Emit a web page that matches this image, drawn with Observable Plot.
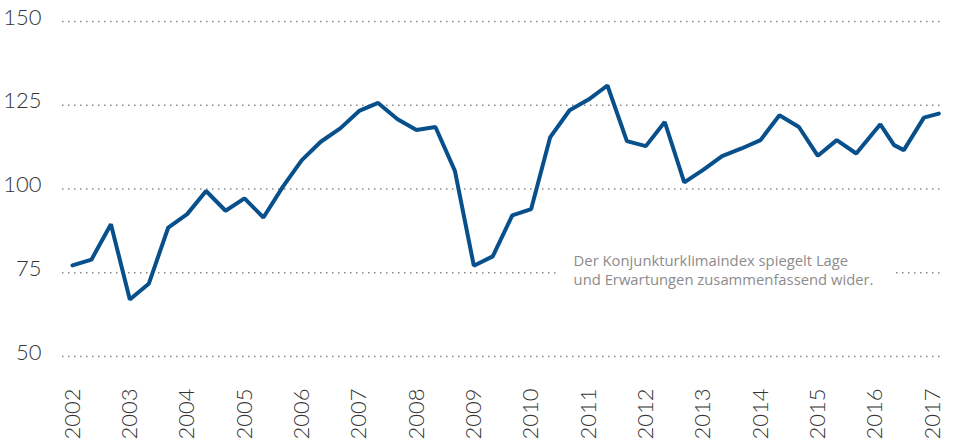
<!DOCTYPE html>
<html>
<head>
<meta charset="utf-8">
<script src="https://cdn.jsdelivr.net/npm/d3@7"></script>
<script src="https://cdn.jsdelivr.net/npm/@observablehq/plot@0.6"></script>
<style>
  html, body { margin: 0; padding: 0; background: #fff; }
  #chart { width: 954px; height: 443px; }
</style>
</head>
<body>
<div id="chart"></div>
<script>
// Time (fractional years) of each observation
const t = [2002.00, 2002.33, 2002.67, 2003.00, 2003.33, 2003.67, 2004.00, 2004.33, 2004.67,
           2005.00, 2005.33, 2005.67, 2006.00, 2006.33, 2006.67, 2007.00, 2007.33, 2007.67,
           2008.00, 2008.33, 2008.67, 2009.00, 2009.33, 2009.67, 2010.00, 2010.33, 2010.67,
           2011.00, 2011.33, 2011.67, 2012.00, 2012.33, 2012.67, 2013.00, 2013.33, 2013.67,
           2014.00, 2014.33, 2014.67, 2015.00, 2015.33, 2015.67, 2016.09, 2016.33, 2016.50,
           2016.85, 2017.11];
// Konjunkturklimaindex values
const v = [77.2, 78.9, 89.5, 67.0, 71.7, 88.5, 92.5, 99.4, 93.5,
           97.2, 91.5, 100.7, 108.6, 114.1, 118.1, 123.3, 125.7, 120.8,
           117.6, 118.5, 105.4, 77.1, 79.9, 92.1, 94.0, 115.4, 123.5,
           126.7, 130.9, 114.3, 112.8, 120.0, 102.0, 105.7, 109.8, 112.1,
           114.6, 122.0, 118.5, 109.9, 114.6, 110.6, 119.3, 113.1, 111.6,
           121.3, 122.5];
// Axis tick labels
const yearTicks = [2002, 2003, 2004, 2005, 2006, 2007, 2008, 2009, 2010, 2011, 2012, 2013, 2014, 2015, 2016, 2017];
const yTicks = [50, 75, 100, 125, 150];
const noteLines = ["Der Konjunkturklimaindex spiegelt Lage", "und Erwartungen zusammenfassend wider."];
const noteAt = {x: 2010.74, y: 75};

const data = t.map((d, i) => ({t: d, v: v[i]}));

const chart = Plot.plot({
  width: 954,
  height: 443,
  marginTop: 21,
  marginBottom: 87,
  marginLeft: 62,
  marginRight: 10,
  style: {fontFamily: "Lato, 'Open Sans', sans-serif", background: "#fff"},
  x: {domain: [2002, 2017], insetLeft: 10, insetRight: 12},
  y: {domain: [50, 150]},
  marks: [
    Plot.ruleY(yTicks, {stroke: "#8a8a8a", strokeWidth: 1.5, strokeDasharray: "1.5,4.5"}),
    Plot.axisY({ticks: yTicks, tickSize: 0, tickPadding: 21, dy: -4, label: null,
                fontSize: 22, fontWeight: 300, fill: "#333"}),
    Plot.axisX({ticks: yearTicks, tickFormat: d => String(d), tickSize: 0, tickRotate: -90,
                tickPadding: 32, label: null, fontSize: 22, fontWeight: 300, fill: "#333"}),
    Plot.lineY(data, {x: "t", y: "v", stroke: "#07508b", strokeWidth: 4, strokeLinejoin: "miter"}),
    Plot.text([noteLines.join("\n")], {x: () => noteAt.x, y: () => noteAt.y, text: d => d,
                textAnchor: "start", lineAnchor: "middle", dy: -3, lineHeight: 1.24,
                fontSize: 14.8, fontFamily: "'Open Sans', sans-serif", fill: "#8c8c8c"})
  ]
});
document.getElementById("chart").appendChild(chart);

// white background behind the note so the dotted line is interrupted
const noteG = chart.querySelector('g[aria-label="text"]');
if (noteG) {
  const bb = noteG.getBBox();
  const r = document.createElementNS("http://www.w3.org/2000/svg", "rect");
  r.setAttribute("x", bb.x - 16);
  r.setAttribute("y", bb.y);
  r.setAttribute("width", bb.width + 36);
  r.setAttribute("height", bb.height);
  r.setAttribute("fill", "#fff");
  noteG.parentNode.insertBefore(r, noteG);
}
</script>
</body>
</html>
